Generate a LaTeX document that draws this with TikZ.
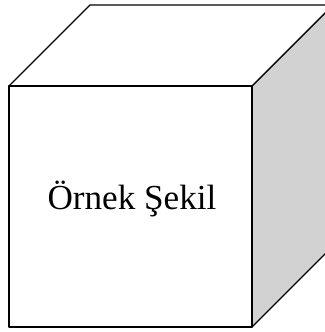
\documentclass[tikz,border=0pt]{standalone}
\usepackage{fontspec}
\setmainfont{Liberation Serif}
\usepackage{tikz}
\usetikzlibrary{calc}

\begin{document}
\begin{tikzpicture}[line width=1pt,line join=round]
\useasboundingbox(0,0)rectangle(8.125,8.3);
\clip(0,0)rectangle(8.125,8.3);
\coordinate(fbl)at(0.225,0.125);
\coordinate(fbr)at(6.3,0.125);
\coordinate(ftr)at(6.3,6.15);
\coordinate(ftl)at(0.225,6.15);
\coordinate(btl)at($(ftl)+(2.025,2.025)$);
\coordinate(btr)at($(ftr)+(2.025,2.025)$);
\coordinate(bbr)at($(fbr)+(2.025,2.025)$);
\draw[fill=gray!35](fbr)--(bbr)--(btr)--(ftr)--cycle;
\draw[fill=white](ftl)--(btl)--(btr)--(ftr)--cycle;
\draw[fill=white](fbl)rectangle(ftr);
\node[font=\fontsize{25}{30}\selectfont](label)at(3.3,3.33){Örnek Şekil};
\end{tikzpicture}
\end{document}
